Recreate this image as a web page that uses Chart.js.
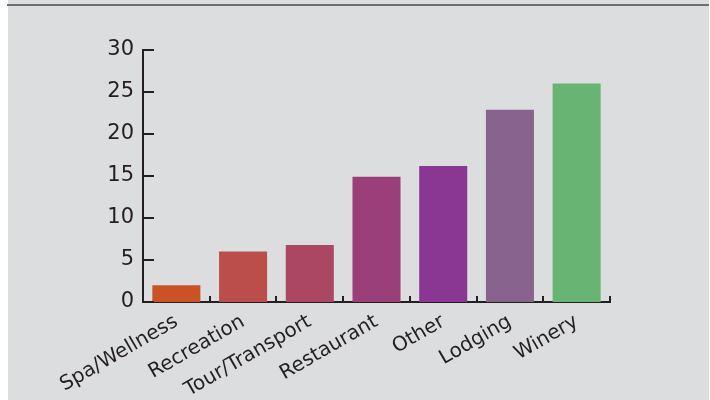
<!DOCTYPE html>
<html>
<head>
<meta charset="utf-8">
<script src="https://cdn.jsdelivr.net/npm/chart.js@4"></script>
<style>
  html, body { margin: 0; padding: 0; background: #fff; }
  .bg { position: absolute; left: 8px; top: 0; width: 701px; height: 400px; background: #dcdddf; }
  .rule { position: absolute; left: 7px; top: 4px; width: 702px; height: 2px; background: #6d6e70; }
  .wrap { position: absolute; left: 0; top: 0; width: 710px; height: 400px; }
</style>
</head>
<body>
<div class="bg"></div>
<div class="rule"></div>
<div class="wrap"><canvas id="myChart1"></canvas></div>
<script>
(() => {
    'use strict'

    // values
    const categories = ['Spa/Wellness', 'Recreation', 'Tour/Transport', 'Restaurant', 'Other', 'Lodging', 'Winery']
    const counts = [2, 6, 6.8, 14.9, 16.2, 22.9, 26]
    const barColors = ['#cb5127', '#bb4d4a', '#ab4763', '#9b3f7b', '#8a3793', '#88638d', '#68b473']
    const yTicks = [0, 5, 10, 15, 20, 25, 30]

    const ink = '#231f20'

    // tick marks point inward in the original, so draw them by hand
    const innerTicks = {
        id: 'innerTicks',
        afterDraw(chart) {
            const c = chart.ctx
            const x = chart.scales.x
            const y = chart.scales.y
            c.save()
            c.strokeStyle = ink
            c.lineWidth = 2
            c.beginPath()
            yTicks.forEach(v => {
                const py = Math.round(y.getPixelForValue(v))
                c.moveTo(x.left, py)
                c.lineTo(x.left + 11, py)
            })
            for (let i = 1; i <= categories.length; i++) {
                const px = Math.round(x.getPixelForValue(i - 0.5))
                c.moveTo(px, y.bottom)
                c.lineTo(px, y.bottom - 6)
            }
            c.stroke()
            c.restore()
        }
    }

    const ctx = document.getElementById('myChart1')
    new Chart(ctx, {
        type: 'bar',
        data: {
            labels: categories,
            datasets: [{
                data: counts,
                backgroundColor: barColors,
                borderWidth: 0,
                categoryPercentage: 0.72,
                barPercentage: 1
            }]
        },
        options: {
            responsive: true,
            maintainAspectRatio: false,
            animation: false,
            layout: { padding: { top: 50, right: 100, left: 0, bottom: 0 } },
            plugins: {
                legend: { display: false },
                tooltip: { enabled: false }
            },
            scales: {
                x: {
                    grid: { display: false },
                    border: { display: true, color: ink, width: 2 },
                    ticks: {
                        color: ink,
                        font: { family: 'DejaVu Sans', size: 20 },
                        minRotation: 30,
                        maxRotation: 30,
                        padding: 0
                    },
                    afterFit(scale) { scale.height = 98 }
                },
                y: {
                    min: 0,
                    max: 30,
                    grid: { display: false },
                    border: { display: true, color: ink, width: 2 },
                    afterBuildTicks(scale) { scale.ticks = yTicks.map(v => ({ value: v })) },
                    ticks: {
                        color: ink,
                        font: { family: 'DejaVu Sans', size: 21 },
                        padding: 1
                    },
                    afterFit(scale) { scale.width = 143 }
                }
            }
        },
        plugins: [innerTicks]
    })
})()
</script>
</body>
</html>
